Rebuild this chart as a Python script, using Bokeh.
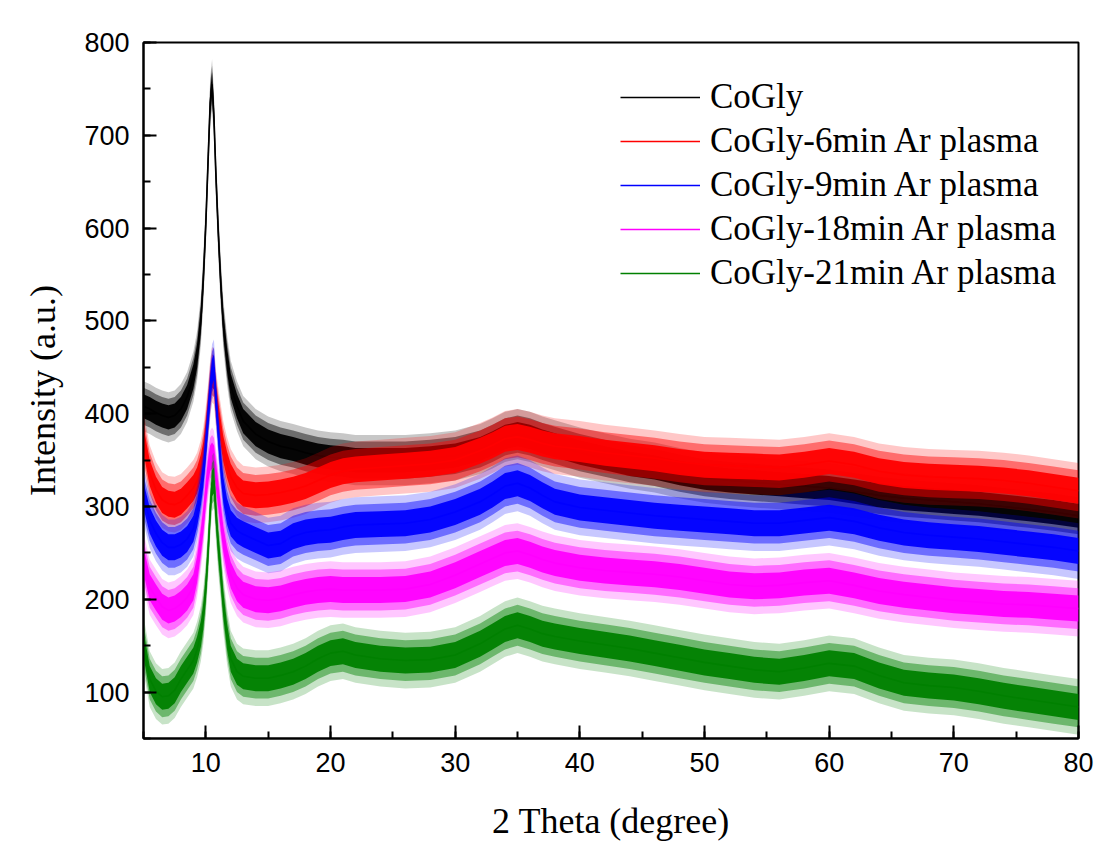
from bokeh.plotting import figure
from bokeh.models import Range1d, Legend, LegendItem, SingleIntervalTicker
from bokeh.embed import file_html
from bokeh.resources import INLINE

# 2-theta sampling positions (degree), denser around the 10.5 degree reflection
two_theta = [5, 5.5, 6, 6.5, 7, 7.5, 8, 8.5, 9,
             9.3, 9.6, 9.8, 10, 10.2, 10.35, 10.5, 10.65, 10.8, 11, 11.2, 11.4, 11.7, 12, 12.5, 13,
             14, 15, 16, 17, 18, 19, 20, 21, 22,
             24, 26, 28, 30, 32,
             33, 34, 35, 36, 37, 38,
             40, 42, 44, 46, 48, 50,
             52, 54, 56, 58, 60, 62, 64, 66, 68, 70,
             72, 74, 76, 78, 80]

# mean intensity of each pattern (a.u.)
cogly = [408, 405, 401, 398, 396, 398, 405, 418, 440,
         462, 500, 545, 605, 680, 735, 755, 720, 660, 595, 540, 497, 458, 430, 408, 392,
         378, 370, 365, 362, 358, 355, 353, 352, 350,
         350, 350, 352, 355, 362,
         368, 375, 378, 375, 370, 366,
         358, 352, 346, 342, 336, 331,
         328, 326, 324, 322, 320, 316, 312, 309, 307, 305,
         303, 300, 297, 294, 290]

cogly_6min = [372, 336, 318, 307, 303, 302, 305, 312, 320,
              328, 342, 356, 378, 405, 428, 442, 440, 418, 398, 380, 362, 345, 332, 320, 314,
              312, 313, 315, 318, 322, 328, 334, 338, 340,
              342, 344, 346, 350, 360,
              366, 373, 375, 372, 368, 365,
              362, 358, 355, 352, 348, 345,
              344, 343, 342, 345, 349, 345, 338, 334, 332, 331,
              330, 328, 325, 321, 317]

cogly_9min = [312, 285, 271, 261, 256, 256, 259, 265, 276,
              292, 315, 335, 365, 400, 425, 445, 450, 418, 380, 345, 318, 295, 282, 274, 270,
              264, 258, 260, 268, 272, 274, 275, 278, 280,
              281, 282, 286, 294, 305,
              313, 322, 325, 320, 312, 305,
              299, 296, 293, 290, 288, 286,
              284, 282, 282, 285, 288, 284, 277, 272, 269, 267,
              265, 262, 259, 256, 252]

cogly_18min = [242, 213, 202, 192, 188, 190, 195, 202, 213,
               232, 262, 285, 315, 340, 352, 355, 352, 335, 312, 288, 265, 242, 226, 212, 205,
               200, 199, 201, 205, 208, 210, 211, 210, 210,
               210, 211, 216, 226, 238,
               244, 250, 252, 248, 243, 239,
               234, 231, 229, 227, 224, 220,
               216, 214, 215, 218, 220, 215, 209, 205, 202, 199,
               197, 195, 194, 192, 190]

cogly_21min = [152, 114, 101, 95, 96, 102, 114, 124, 134,
               146, 163, 182, 212, 255, 295, 325, 328, 295, 258, 228, 195, 160, 136, 122, 117,
               115, 115, 118, 122, 128, 136, 142, 144, 140,
               136, 134, 135, 140, 152,
               160, 168, 172, 168, 163, 160,
               155, 151, 147, 142, 137, 132,
               128, 124, 122, 126, 131, 128, 118, 110, 107, 105,
               101, 96, 92, 88, 84]

# counting-noise half widths (a.u.): dense core, mid scatter and occasional spikes
noise_core = [13, 14, 14, 14, 14]
noise_mid = [20, 22, 22, 22, 22]
noise_spike = [27, 30, 30, 30, 30]

labels = ["CoGly", "CoGly-6min Ar plasma", "CoGly-9min Ar plasma",
          "CoGly-18min Ar plasma", "CoGly-21min Ar plasma"]
series = [cogly, cogly_6min, cogly_9min, cogly_18min, cogly_21min]
colors = ["#000000", "#ff0000", "#0000ff", "#ff00ff", "#008000"]

SERIF = "Liberation Serif"
SANS = "Liberation Sans"

p = figure(width=1110, height=843, output_backend="svg", toolbar_location=None,
           x_range=Range1d(5, 80), y_range=Range1d(50, 800),
           min_border_left=143, min_border_right=32, min_border_top=42, min_border_bottom=105)
p.grid.visible = False
p.outline_line_color = "black"
p.outline_line_width = 2
p.background_fill_color = "white"
p.border_fill_color = "white"

p.xaxis.ticker = SingleIntervalTicker(interval=10, num_minor_ticks=2)
p.yaxis.ticker = SingleIntervalTicker(interval=100, num_minor_ticks=2)

for ax in (p.xaxis[0], p.yaxis[0]):
    ax.axis_line_width = 2
    ax.major_tick_line_width = 2
    ax.minor_tick_line_width = 2
    ax.major_tick_in = 13
    ax.major_tick_out = 0
    ax.minor_tick_in = 7
    ax.minor_tick_out = 0
    ax.major_label_text_font = SANS
    ax.major_label_text_font_size = "27px"
    ax.major_label_text_color = "black"
    ax.axis_label_text_font = SERIF
    ax.axis_label_text_font_size = "36px"
    ax.axis_label_text_font_style = "normal"
    ax.axis_label_text_color = "black"
    ax.major_label_standoff = 14

p.xaxis.axis_label = "2 Theta (degree)"
p.yaxis.axis_label = "Intensity (a.u.)"
p.xaxis.axis_label_standoff = 26
p.yaxis.axis_label_standoff = 18

items = []
for name, ys, col, core, mid, spike in zip(labels, series, colors, noise_core, noise_mid, noise_spike):
    p.varea(x=two_theta, y1=[v - spike for v in ys], y2=[v + spike for v in ys],
            fill_color=col, fill_alpha=0.22)
    p.varea(x=two_theta, y1=[v - mid for v in ys], y2=[v + mid for v in ys],
            fill_color=col, fill_alpha=0.45)
    p.varea(x=two_theta, y1=[v - core for v in ys], y2=[v + core for v in ys],
            fill_color=col, fill_alpha=0.95)
    r = p.line(x=two_theta, y=ys, line_color=col, line_width=1.6)
    items.append(LegendItem(label=name, renderers=[r]))

legend = Legend(items=items, location=(477, 443), orientation="vertical",
                border_line_color=None, background_fill_alpha=0,
                label_text_font=SERIF, label_text_font_size="35px", label_text_color="black",
                glyph_width=80, glyph_height=44, label_height=44, label_standoff=10,
                spacing=0, padding=0, margin=0)
p.add_layout(legend)

open("out.html", "w").write(file_html(p, INLINE))
